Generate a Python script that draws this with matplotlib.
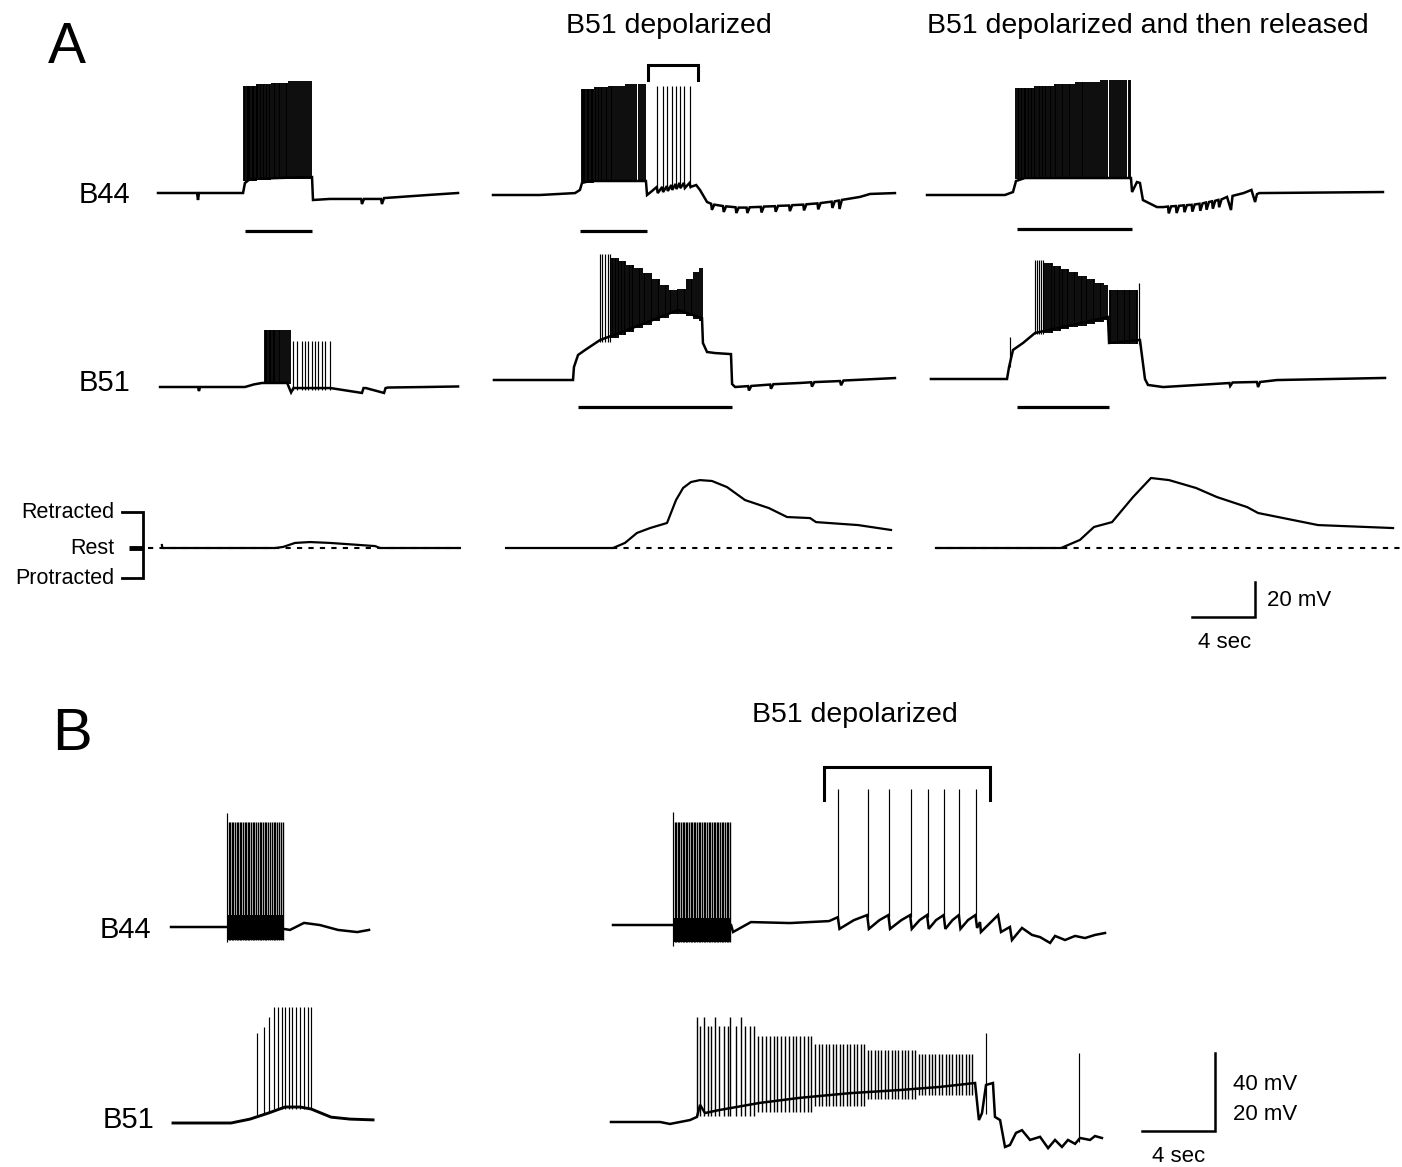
import numpy as np
import matplotlib
matplotlib.use('Agg')
import matplotlib.pyplot as plt

plt.rcParams['font.family'] = ['Liberation Sans', 'DejaVu Sans']

W, H = 1402, 1167

# ---------------------------------------------------------------------------
# Panel A   (time in s from trace start, potential in mV from rest)
# ---------------------------------------------------------------------------
# column 1 - control
a1_b44_t = [0, 2.48, 2.54, 2.6, 5.4, 5.52, 5.84, 7.75, 9.78, 9.84, 10.9, 12.9, 12.95,
            13.08, 14.16, 14.22, 14.35, 15.3, 17.2, 19.05]
a1_b44_v = [0, 0, -4.0, 0, 0, 5.7, 8.0, 8.6, 9.1, -4.0, -3.4, -3.4, -6.3, -3.4, -3.4,
            -6.3, -2.9, -2.3, -1.1, 0]
a1_b44_spk = [[5.48, 5.55, 5.63, 5.70, 5.79, 5.86, 5.95, 6.03, 6.12, 6.20],
              [6.30, 6.38, 6.47, 6.57, 6.66, 6.76, 6.85, 6.95, 7.05, 7.14],
              [7.25, 7.35, 7.44, 7.55, 7.66, 7.76, 7.88, 7.98, 8.10, 8.21],
              [8.33, 8.45, 8.58, 8.70, 8.82, 8.95, 9.08, 9.20, 9.34, 9.47, 9.60, 9.74]]
a1_b44_top = [61.0, 62.0, 63.0, 64.0]
a1_b44_foot = [7.0, 7.5, 8.0, 8.0]
a1_b44_stim = [5.52, 9.78]

a1_b51_t = [0.13, 2.54, 2.6, 2.67, 5.52, 6.1, 6.6, 8.2, 8.45, 8.6, 9.5, 10.95, 12.95,
            13.05, 13.2, 14.35, 14.45, 14.6, 17.0, 19.05]
a1_b51_v = [0, 0, -2.3, 0, 0, 1.5, 2.3, 2.3, -3.1, -0.6, -0.6, -0.6, -3.4, -0.6, -0.6,
            -3.4, -0.6, -0.3, 0, 0.3]
a1_b51_spk = [[6.78, 6.86, 6.93, 7.02, 7.10, 7.19, 7.27, 7.37, 7.46, 7.56, 7.66, 7.77,
               7.88, 7.99, 8.12, 8.25, 8.38],
              [8.57, 8.83, 9.14, 9.33, 9.52, 9.78, 9.97, 10.16, 10.41, 10.6, 10.92]]
a1_b51_top = [32.5, 26.5]
a1_b51_foot = [1.5, -1.5]

a1_mov_t = [0.25, 0.27, 7.43, 7.94, 8.7, 9.65, 10.92, 12.83, 13.78, 14.1, 19.17]
a1_mov_v = [1.7, 0, 0, 0.6, 2.9, 3.4, 2.9, 1.7, 1.1, 0, 0]
a1_rest = [-0.63, 19.17]

# column 2 - B51 depolarized
a2_b44_t = [0, 2.98, 5.21, 5.52, 5.65, 6.16, 9.71, 9.78, 10.1, 10.40, 10.46, 10.74,
            10.80, 11.04, 11.10, 11.32, 11.38, 11.59, 11.65, 11.84, 11.90, 12.12, 12.18,
            12.48, 12.54, 12.9, 13.14, 13.59, 13.85, 13.9, 14.05, 14.6, 14.65, 14.8,
            15.4, 15.45, 15.6, 16.1, 16.15, 16.3, 17.0, 17.05, 17.2, 17.9, 17.95, 18.1,
            18.8, 18.85, 19.0, 19.7, 19.75, 19.9, 20.6, 20.65, 20.8, 21.5, 21.55, 21.7,
            21.95, 22.0, 22.15, 23.3, 23.94, 25.52]
a2_b44_v = [0, 0, 1.1, 2.9, 6.9, 8.0, 8.0, 0, 2.3, 4.6, 1.1, 4.6, 1.7, 5.1, 2.3, 5.7,
            2.9, 6.3, 3.4, 6.9, 4.0, 6.9, 4.0, 6.9, 4.6, 5.7, 2.9, -4.0, -5.0, -8.5,
            -5.5, -6.3, -9.7, -6.5, -7.0, -10.3, -7.2, -7.2, -10.3, -7.0, -6.8, -10.0,
            -6.6, -6.4, -9.6, -6.2, -6.0, -9.2, -5.8, -5.5, -8.8, -5.3, -4.8, -8.2,
            -4.6, -3.8, -7.4, -3.6, -3.2, -8.0, -2.8, -1.1, 0.6, 1.1]
a2_b44_spk = [[5.62, 5.70, 5.78, 5.86, 5.95, 6.03, 6.12, 6.20, 6.29, 6.38],
              [6.47, 6.56, 6.66, 6.75, 6.85, 6.95, 7.05, 7.15, 7.26],
              [7.36, 7.47, 7.58, 7.70, 7.81, 7.93, 8.05, 8.17, 8.30],
              [8.43, 8.56, 8.70, 8.83, 8.97, 9.11, 9.25, 9.40, 9.55, 9.68],
              [10.43, 10.77, 11.07, 11.35, 11.62, 11.87, 12.15, 12.51]]
a2_b44_top = [60.5, 61.5, 62.5, 63.5, 62.0]
a2_b44_foot = [7.0, 7.5, 7.5, 7.5, 4.0]
a2_b44_stim = [5.54, 9.78]
a2_b44_brk = [9.84, 13.0]

a2_b51_t = [0.06, 5.08, 5.14, 5.4, 5.84, 6.79, 9.33, 11.75, 12.51, 13.27, 13.33, 13.59,
            14.1, 15.11, 15.18, 15.37, 16.2, 16.25, 16.4, 17.6, 17.65, 17.8, 19.49,
            20.2, 20.25, 20.4, 22.03, 22.1, 22.25, 25.52]
a2_b51_v = [0, 0, 7.4, 14.3, 17.1, 22.8, 31.4, 40, 37.7, 35.4, 21.1, 16, 15.4, 14.8,
            -2.3, -4, -3.5, -6, -3.4, -2.6, -5, -2.4, -1.7, -1.3, -3.8, -1.2, -0.6,
            -3.0, -0.3, 1.1]
a2_b51_spk = [[6.80, 6.95, 7.10, 7.28, 7.44],
              [7.55, 7.64, 7.73, 7.82, 7.92],
              [8.01, 8.11, 8.21, 8.31, 8.41],
              [8.51, 8.61, 8.71, 8.81, 8.92],
              [9.02, 9.13, 9.24, 9.35, 9.46],
              [9.57, 9.68, 9.79, 9.90, 10.01],
              [10.12, 10.23, 10.34, 10.45, 10.56],
              [10.67, 10.78, 10.89, 11.00, 11.11],
              [11.22, 11.33, 11.44, 11.55, 11.66],
              [11.77, 11.88, 11.99, 12.10, 12.21],
              [12.32, 12.43, 12.55, 12.66],
              [12.78, 12.90, 13.02],
              [13.14, 13.24]]
a2_b51_top = [72, 70, 68, 66, 64, 61, 58, 54.5, 51.5, 52, 58, 62, 64]
a2_b51_foot = [22, 24, 25.5, 27.5, 29.5, 31.5, 33.5, 35.5, 37.5, 38, 36.5, 35, 34]
a2_b51_stim = [5.4, 15.18]

a2_mov_t = [0.83, 7.62, 8.38, 9.14, 9.97, 11.05, 11.62, 12.07, 12.57, 13.14, 13.9,
            14.86, 16.0, 17.52, 18.67, 20.13, 20.51, 23.18, 25.27]
a2_mov_v = [0, 0, 2.9, 8.6, 11.4, 14.3, 27.4, 34.3, 37.7, 38.8, 38.3, 34.8, 27.4, 22.8,
            17.7, 17.1, 14.8, 13.1, 10.3]
a2_rest = [7.56, 25.4]

# column 3 - B51 depolarized and then released
a3_b44_t = [0, 4.95, 5.46, 5.65, 6.22, 12.95, 13.02, 13.33, 13.52, 13.71, 14.6, 15.0,
            15.3, 15.35, 15.5, 15.8, 15.85, 16.0, 16.3, 16.35, 16.5, 16.8, 16.85, 17.0,
            17.3, 17.35, 17.5, 17.7, 17.75, 17.9, 18.1, 18.15, 18.3, 18.5, 18.55, 18.7,
            19.05, 19.3, 19.4, 20.1, 20.6, 20.83, 20.95, 21.1, 28.95]
a3_b44_v = [0, 0, 1.7, 8.0, 9.7, 9.7, 1.7, 7.4, 6.9, -2.9, -6.9, -6.9, -6.6, -10.5,
            -6.5, -6.3, -10.3, -6.2, -5.9, -9.8, -5.8, -5.6, -9.5, -5.4, -5.0, -9.0,
            -4.8, -4.3, -8.4, -4.0, -3.6, -7.8, -3.3, -2.8, -7.0, -2.5, -1.1, -8.6,
            -0.5, 1.1, 2.9, -4.0, 0.5, 1.1, 1.7]
a3_b44_spk = [[5.68, 5.77, 5.86, 5.95, 6.04, 6.13, 6.22, 6.31, 6.40, 6.50, 6.59, 6.69,
               6.78],
              [6.88, 6.98, 7.08, 7.18, 7.28, 7.38, 7.48, 7.58, 7.69, 7.79, 7.90, 8.00],
              [8.11, 8.22, 8.33, 8.44, 8.55, 8.66, 8.77, 8.88, 8.99, 9.10, 9.21, 9.33],
              [9.45, 9.57, 9.69, 9.81, 9.93, 10.05, 10.18, 10.30, 10.43, 10.55, 10.68,
               10.81, 10.94],
              [11.07, 11.20, 11.33, 11.46, 11.59, 11.72, 11.86, 11.99, 12.12, 12.26,
               12.39, 12.53, 12.66, 12.80, 12.92]]
a3_b44_top = [61.0, 62.2, 63.3, 64.4, 65.5]
a3_b44_foot = [9.0, 9.0, 9.0, 9.0, 9.0]
a3_b44_stim = [5.71, 13.02]

a3_b51_t = [0.25, 5.08, 5.21, 5.46, 6.1, 6.86, 11.49, 11.56, 13.52, 13.84, 14.03, 14.99,
            19.2, 19.25, 19.4, 20.95, 21.02, 21.15, 22.22, 29.08]
a3_b51_v = [0, 0, 6.9, 16.6, 20.6, 26.3, 35.4, 20.6, 22.3, 0, -3.4, -4.6, -2.3, -4.0,
            -2.0, -1.7, -4.6, -1.7, -0.6, 0.6]
a3_b51_spk = [[5.27],
              [6.86, 6.98, 7.10, 7.25, 7.38],
              [7.50, 7.62, 7.75, 7.85, 7.95],
              [8.05, 8.15, 8.25, 8.35, 8.45],
              [8.55, 8.65, 8.76, 8.87, 8.98],
              [9.09, 9.20, 9.31, 9.42, 9.53],
              [9.64, 9.75, 9.86, 9.97, 10.08],
              [10.19, 10.30, 10.41, 10.52, 10.63],
              [10.74, 10.85, 10.96, 11.07, 11.18],
              [11.29, 11.40],
              [11.60, 11.71, 11.82, 11.93, 12.04, 12.15, 12.26, 12.37, 12.48, 12.59,
               12.70, 12.81, 12.92, 13.03, 13.14, 13.25, 13.36],
              [13.47]]
a3_b51_top = [24, 68, 66, 64.5, 63, 61, 59, 57, 55, 53.5, 51, 55]
a3_b51_foot = [7, 25.5, 26.5, 27.5, 28.5, 29.5, 30.5, 31.5, 32.5, 33.5, 20, 20]
a3_b51_stim = [5.71, 11.56]

a3_mov_t = [0.57, 8.51, 9.71, 10.6, 11.75, 13.08, 14.22, 15.37, 17.08, 18.41, 20.32,
            21.02, 24.83, 29.59]
a3_mov_v = [0, 0, 4.6, 12, 14.8, 29.1, 40, 38.8, 34.3, 29.1, 23.4, 20, 13.1, 11.4]
a3_rest = [0.57, 30.03]

# ---------------------------------------------------------------------------
# Panel B
# ---------------------------------------------------------------------------
b1_b44_t = [0, 3.07, 6.19, 6.52, 7.29, 8.16, 9.15, 10.2, 10.85]
b1_b44_v = [0, 0, -1.0, -1.5, 2.1, 1.0, -1.5, -2.6, -1.5]
b1_b44_spk = [[3.08],
              [3.16, 3.25, 3.33, 3.42, 3.50, 3.59, 3.68, 3.76, 3.85, 3.94, 4.03, 4.12,
               4.21, 4.30, 4.39, 4.48, 4.57, 4.66, 4.76, 4.85, 4.94, 5.04, 5.13, 5.23,
               5.32, 5.42, 5.52, 5.62, 5.72, 5.82, 5.92, 6.02, 6.12]]
b1_b44_top = [58.5, 54]
b1_b44_foot = [-7.5, -6.7]
b1_b44_band = [3.07, 6.19]

b1_b51_t = [0.11, 3.29, 4.33, 5.37, 6.25, 7.07, 7.67, 8.77, 9.81, 11.07]
b1_b51_v = [0, 0, 1.0, 2.6, 4.1, 4.1, 3.6, 1.5, 1.0, 0.8]
b1_b51_spk = [[4.71], [5.10], [5.37],
              [5.64, 5.86, 6.08, 6.25, 6.47, 6.63, 6.85, 7.07, 7.29, 7.51, 7.67]]
b1_b51_top = [23, 24.6, 27.2, 29.7]
b1_b51_foot = [2.0, 2.3, 2.6, 3.5]

b2_b44_t = [0, 3.29, 6.47, 6.58, 7.56, 9.7, 11.84, 12.32, 12.41, 13.2, 13.93, 14.02,
            14.6, 15.09, 15.18, 15.8, 16.28, 16.37, 16.8, 17.21, 17.30, 17.7, 18.12,
            18.21, 18.6, 18.95, 19.04, 19.45, 19.86, 19.95, 20.11, 20.16, 21.1, 21.26,
            21.75, 21.86, 22.41, 22.96, 23.4, 23.95, 24.22, 24.77, 25.32, 25.86, 26.41,
            26.96]
b2_b44_v = [0, 0, 0, -3.6, 1.5, 1.0, 2.0, 4.0, -2.0, 2.5, 5.1, -2.0, 2.5, 5.1, -2.0,
            2.5, 5.1, -2.0, 2.5, 5.1, -2.0, 2.5, 5.1, -2.0, 2.5, 5.1, -2.0, 2.5, 5.1,
            -1.5, 1.5, -3.6, 5.1, -3.6, -1.0, -7.7, -1.5, -5.1, -6.2, -9.2, -5.6, -7.7,
            -5.6, -6.7, -5.1, -4.1]
b2_b44_spk = [[3.30],
              [3.38, 3.47, 3.55, 3.64, 3.73, 3.81, 3.90, 3.99, 4.08, 4.17, 4.25, 4.34,
               4.43, 4.52, 4.61, 4.70, 4.79, 4.88, 4.97, 5.06, 5.15, 5.24, 5.33, 5.42,
               5.51, 5.60, 5.69, 5.78, 5.87, 5.96, 6.05, 6.14, 6.23, 6.32, 6.41],
              [12.35, 13.96, 15.12, 16.31, 17.24, 18.15, 18.98, 19.89]]
b2_b44_top = [58, 53, 69.7]
b2_b44_foot = [-11, -8.7, 4.0]
b2_b44_band = [3.29, 6.47]
b2_b44_brk = [11.56, 20.66]

b2_b51_t = [-0.11, 2.58, 3.12, 3.67, 4.22, 4.6, 4.77, 5.04, 5.86, 8.05, 10.25, 12.99,
            15.73, 17.92, 19.84, 20.05, 20.22, 20.44, 20.82, 20.93, 21.21, 21.48, 21.75,
            22.08, 22.41, 22.85, 23.4, 23.84, 24.22, 24.6, 24.93, 25.32, 25.59, 26.14,
            26.41, 26.79]
b2_b51_v = [0, 0, -0.5, 0, 0.5, 1.3, 4.4, 2.3, 3.1, 4.9, 6.2, 7.4, 8.2, 9.0, 10.0, 0.5,
            2.3, 9.5, 10.0, 1.3, 0.5, -6.4, -5.9, -2.8, -2.1, -4.6, -3.8, -6.7, -4.6,
            -6.4, -4.6, -5.6, -4.1, -4.6, -3.6, -4.1]
b2_b51_spk = [[4.60, 4.99, 5.59, 6.41, 7.01],
              [4.77, 5.18, 5.37, 5.81, 6.08, 6.30, 6.72, 7.25, 7.48, 7.72],
              [7.95, 8.16, 8.38, 8.58, 8.80, 9.00, 9.22, 9.42, 9.63, 9.84, 10.05, 10.25,
               10.46, 10.66, 10.87],
              [11.07, 11.27, 11.46, 11.66, 11.85, 12.05, 12.24, 12.43, 12.63, 12.82,
               13.01, 13.20, 13.39, 13.58, 13.77],
              [13.96, 14.15, 14.33, 14.52, 14.71, 14.89, 15.08, 15.27, 15.45, 15.64,
               15.82, 16.01, 16.19, 16.38, 16.56],
              [16.75, 16.93, 17.12, 17.30, 17.48, 17.67, 17.85, 18.03, 18.22, 18.40,
               18.58, 18.77, 18.95, 19.13, 19.32, 19.50, 19.68],
              [20.44], [25.53]]
b2_b51_top = [27, 24.5, 22, 20, 18.5, 17.5, 22.8, 17.7]
b2_b51_foot = [1.5, 1.5, 2.5, 4.0, 6.0, 7.0, 2.0, -5.0]

# ---------------------------------------------------------------------------
fig = plt.figure(figsize=(W / 100, H / 100), dpi=100)

SX_A, SY_A = 15.75, 1.75          # px per s, px per mV in panel A
SX_B, SY_B44, SY_B51 = 18.25, 1.95, 3.9
DENSE, THIN = 1.35, 0.85          # spike line widths


def trace_axes(x0, y0, sx, sy):
    # axes whose (0 s, 0 mV) lands on pixel (x0, y0)
    t0, t1, v0, v1 = -5, 35, -50, 100
    bottom_row = y0 - v0 * sy
    ax = fig.add_axes([(x0 + t0 * sx) / W, 1 - bottom_row / H,
                       (t1 - t0) * sx / W, (v1 - v0) * sy / H])
    ax.set_xlim(t0, t1)
    ax.set_ylim(v0, v1)
    ax.axis('off')
    return ax


def draw(ax, t, v, spk, top, foot, widths, lw=1.8):
    ax.plot(t, v, color='k', lw=lw, solid_joinstyle='miter')
    for times, hi, lo, w in zip(spk, top, foot, widths):
        ax.vlines(times, lo, hi, color='k', lw=w)


def bar(ax, span, level):
    ax.plot(span, [level, level], color='k', lw=2.3, solid_capstyle='butt')


def bracket(ax, span, top, leg):
    ax.plot([span[0], span[0], span[1], span[1]], [leg, top, top, leg],
            color='k', lw=2.2, solid_joinstyle='miter')


# panel A
ax = trace_axes(158, 193, SX_A, SY_A)
draw(ax, a1_b44_t, a1_b44_v, a1_b44_spk, a1_b44_top, a1_b44_foot, [DENSE] * 4)
bar(ax, a1_b44_stim, -21.7)
ax = trace_axes(158, 387, SX_A, SY_A)
draw(ax, a1_b51_t, a1_b51_v, a1_b51_spk, a1_b51_top, a1_b51_foot, [DENSE, THIN])
ax = trace_axes(158, 548, SX_A, SY_A)
ax.plot(a1_rest, [0, 0], color='k', lw=1.5, ls=(0, (2.5, 3)))
ax.plot(a1_mov_t, a1_mov_v, color='k', lw=1.6)

ax = trace_axes(493, 195, SX_A, SY_A)
draw(ax, a2_b44_t, a2_b44_v, a2_b44_spk, a2_b44_top, a2_b44_foot,
     [DENSE] * 4 + [THIN])
bar(ax, a2_b44_stim, -20.6)
bracket(ax, a2_b44_brk, 74.2, 65.7)
ax = trace_axes(493, 380, SX_A, SY_A)
draw(ax, a2_b51_t, a2_b51_v, a2_b51_spk, a2_b51_top, a2_b51_foot,
     [THIN] + [DENSE] * 12)
bar(ax, a2_b51_stim, -15.4)
ax = trace_axes(493, 548, SX_A, SY_A)
ax.plot(a2_rest, [0, 0], color='k', lw=1.5, ls=(0, (2.5, 3)))
ax.plot(a2_mov_t, a2_mov_v, color='k', lw=1.6)

ax = trace_axes(927, 195, SX_A, SY_A)
draw(ax, a3_b44_t, a3_b44_v, a3_b44_spk, a3_b44_top, a3_b44_foot, [DENSE] * 5)
bar(ax, a3_b44_stim, -19.4)
ax = trace_axes(927, 379, SX_A, SY_A)
draw(ax, a3_b51_t, a3_b51_v, a3_b51_spk, a3_b51_top, a3_b51_foot,
     [THIN, THIN] + [DENSE] * 9 + [THIN])
bar(ax, a3_b51_stim, -16.0)
ax = trace_axes(927, 548, SX_A, SY_A)
ax.plot(a3_rest, [0, 0], color='k', lw=1.5, ls=(0, (2.5, 3)))
ax.plot(a3_mov_t, a3_mov_v, color='k', lw=1.6)
# scale bar: 4 s, 20 mV
ax.plot([16.83, 20.83, 20.83], [-39.4, -39.4, -19.4], color='k', lw=1.8,
        solid_joinstyle='miter')

# panel B
ax = trace_axes(171, 927, SX_B, SY_B44)
ax.fill_between(b1_b44_band, -6.7, 6.0, color='k', lw=0)
draw(ax, b1_b44_t, b1_b44_v, b1_b44_spk, b1_b44_top, b1_b44_foot, [THIN, 1.0])
ax = trace_axes(171, 1123, SX_B, SY_B51)
draw(ax, b1_b51_t, b1_b51_v, b1_b51_spk, b1_b51_top, b1_b51_foot, [THIN] * 4,
     lw=2.1)

ax = trace_axes(613, 925, SX_B, SY_B44)
ax.fill_between(b2_b44_band, -8.7, 3.6, color='k', lw=0)
draw(ax, b2_b44_t, b2_b44_v, b2_b44_spk, b2_b44_top, b2_b44_foot, [THIN, 1.0, THIN])
bracket(ax, b2_b44_brk, 81, 64.1)
ax = trace_axes(613, 1122, SX_B, SY_B51)
draw(ax, b2_b51_t, b2_b51_v, b2_b51_spk, b2_b51_top, b2_b51_foot,
     [1.0] * 6 + [THIN, THIN])
# scale bar: 4 s, 40 mV (B44) / 20 mV (B51)
ax.plot([28.99, 32.99, 32.99], [-2.3, -2.3, 17.7], color='k', lw=1.8,
        solid_joinstyle='miter')

# overlay in pixel coordinates for labels
ov = fig.add_axes([0, 0, 1, 1])
ov.set_xlim(0, W)
ov.set_ylim(H, 0)
ov.axis('off')

ov.text(48, 63, 'A', fontsize=41, va='baseline')
ov.text(52, 750, 'B', fontsize=43, va='baseline')
ov.text(669, 33, 'B51 depolarized', fontsize=20.5, ha='center', va='baseline')
ov.text(1148, 33, 'B51 depolarized and then released', fontsize=20.5, ha='center',
        va='baseline')
ov.text(855, 722, 'B51 depolarized', fontsize=20.5, ha='center', va='baseline')

for x, y, s in [(130, 203, 'B44'), (130, 391, 'B51'), (151, 938, 'B44'),
                (154, 1128, 'B51')]:
    ov.text(x, y, s, fontsize=21, ha='right', va='baseline')

for y, s in [(512, 'Retracted'), (548, 'Rest'), (578, 'Protracted')]:
    ov.text(114, y, s, fontsize=15.5, ha='right', va='center')
ov.plot([122, 143, 143, 122], [512, 512, 578, 578], color='k', lw=2.0,
        solid_joinstyle='miter')
ov.plot([129, 143], [548, 548], color='k', lw=3.5, solid_capstyle='butt')

ov.text(1267, 600, '20 mV', fontsize=16, va='center')
ov.text(1198, 643, '4 sec', fontsize=16, va='center')
ov.text(1233, 1085, '40 mV', fontsize=16, va='center')
ov.text(1233, 1115, '20 mV', fontsize=16, va='center')
ov.text(1152, 1156, '4 sec', fontsize=16, va='center')

fig.savefig('out.png', dpi=100, facecolor='white')
